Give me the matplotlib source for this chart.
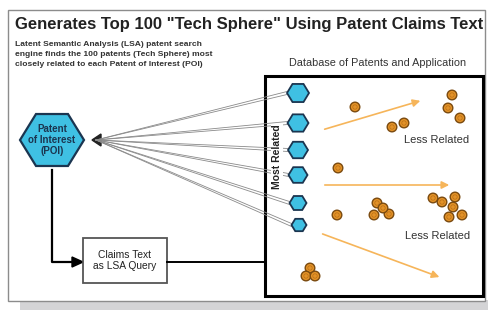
import numpy as np
import matplotlib.pyplot as plt
from matplotlib.patches import Polygon, Rectangle, Circle, FancyArrowPatch

# diagram content (pixel coordinates of a 489x310 canvas)
title = 'Generates Top 100 "Tech Sphere" Using Patent Claims Text'
intro = ['Latent Semantic Analysis (LSA) patent search',
         'engine finds the 100 patents (Tech Sphere) most',
         'closely related to each Patent of Interest (POI)']
db_label = 'Database of Patents and Application'
poi_label = 'Patent\nof Interest\n(POI)'
query_label = 'Claims Text\nas LSA Query'
near_label = 'Most Related'
far_labels = ['Less Related', 'Less Related']

hex_x = [298, 298, 298, 298, 298, 299]
hex_y = [93, 123, 150, 175, 203, 225]
hex_w = [22, 21, 20, 19, 17, 15]

dot_x = [355, 452, 448, 460, 392, 404, 338, 337, 377, 374, 389, 383,
         433, 442, 455, 453, 449, 462, 310, 306, 315]
dot_y = [107, 95, 108, 118, 127, 123, 168, 215, 203, 215, 214, 208,
         198, 202, 197, 207, 217, 215, 268, 276, 276]

trend_start = [(322, 130), (322, 185), (320, 233)]
trend_end = [(423, 100), (452, 185), (442, 278)]
far_pos = [(437, 140), (438, 236)]

CYAN = '#3fc0e3'
NAVY = '#1b3550'
ORANGE = '#e39227'
ORANGE_EDGE = '#7a4a10'
TREND = '#f6b55a'


def hexagon(cx, cy, w, h):
    a = np.radians([0, 60, 120, 180, 240, 300])
    return np.column_stack([cx + w / 2 * np.cos(a), cy + h / 2 * np.sin(a)])


plt.rcParams['font.family'] = ['Liberation Sans', 'DejaVu Sans']
fig = plt.figure(figsize=(4.89, 3.10), dpi=100)
ax = fig.add_axes([0, 0, 1, 1])
ax.set_xlim(0, 489)
ax.set_ylim(310, 0)
ax.axis('off')

# panel with shadow
ax.add_patch(Rectangle((20, 300), 469, 10, color='#d4d4d6', lw=0))
ax.add_patch(Rectangle((8, 10), 477, 291, facecolor='white', edgecolor='#8c8c8c', lw=1))

ax.text(249, 24, title, ha='center', va='center', fontsize=12,
        fontweight='bold', color='#222222')
for i, line in enumerate(intro):
    ax.text(15, 45 + 10 * i, line, ha='left', va='center', fontsize=6.1,
            fontweight='bold', color='#333333')

# database box
ax.text(378, 63, db_label, ha='center', va='center', fontsize=7.8, color='#333333')
ax.add_patch(Rectangle((265, 76), 218, 220, facecolor='white', edgecolor='black', lw=2.2))

# grey rays from tech sphere hexagons back to POI
for x, y, w in zip(hex_x, hex_y, hex_w):
    for off in (-1.5, 1.5):
        ax.plot([x - w / 2, 96], [y + off, 140], color='#8a8a8a', lw=0.6)
ax.add_patch(Polygon([(92, 140), (101, 134), (101, 146)], closed=True,
                     color='#222222'))

for x, y, w in zip(hex_x, hex_y, hex_w):
    ax.add_patch(Polygon(hexagon(x, y, w, w * 0.95), closed=True,
                         facecolor=CYAN, edgecolor=NAVY, lw=1.3, zorder=3))
ax.text(277, 157, near_label, rotation=90, ha='center', va='center',
        fontsize=7.5, fontweight='bold', color='#222222', zorder=5,
        bbox=dict(facecolor='white', edgecolor='none', pad=0.5))

# trends
for (x0, y0), (x1, y1) in zip(trend_start, trend_end):
    ax.add_patch(FancyArrowPatch((x0, y0), (x1, y1), arrowstyle='-|>',
                                 mutation_scale=11, color=TREND, lw=1.2, zorder=2))

for x, y in zip(dot_x, dot_y):
    ax.add_patch(Circle((x, y), 4.8, facecolor=ORANGE, edgecolor=ORANGE_EDGE,
                        lw=1.0, zorder=4))
    ax.add_patch(Circle((x, y), 2.2, facecolor='none', edgecolor='#b86f18',
                        lw=0.5, zorder=5))

for (x, y), s in zip(far_pos, far_labels):
    ax.text(x, y, s, ha='center', va='center', fontsize=8, color='#333333')

# patent of interest
ax.add_patch(Polygon(hexagon(52, 140, 64, 60), closed=True, facecolor=CYAN,
                     edgecolor=NAVY, lw=1.6, zorder=3))
ax.text(52, 140, poi_label, ha='center', va='center', fontsize=7,
        fontweight='bold', color=NAVY, linespacing=1.1, zorder=4)

# query path
ax.plot([52, 52, 80], [170, 262, 262], color='black', lw=1.6)
ax.add_patch(Polygon([(83, 262), (72, 257), (72, 267)], closed=True, color='black'))
ax.add_patch(Rectangle((83, 238), 84, 45, facecolor='white', edgecolor='#555555', lw=1.3))
ax.text(125, 260.5, query_label, ha='center', va='center', fontsize=7.4,
        color='#222222', linespacing=1.2)
ax.plot([167, 264], [262, 262], color='black', lw=1.4)

fig.savefig('out.png', dpi=100)
